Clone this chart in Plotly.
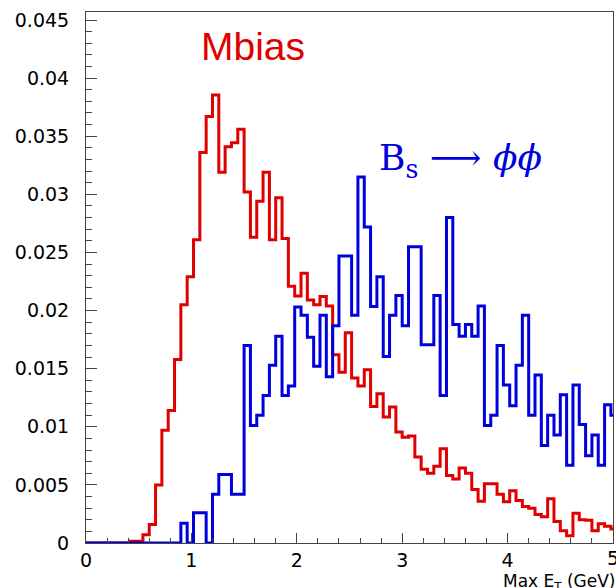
import numpy as np
import plotly.graph_objects as go

# Histogram definition: 0.06 GeV bins starting at 0
bin_width = 0.06
n_bins = 84

# Mbias (red), per bin, in units of 1e-3
mbias = [0, 0, 0, 0, 0, 0, 0, 0.15, 0.15, 0.7,
         1.6, 5.0, 9.7, 11.4, 15.8, 20.5, 22.9, 26.1, 33.6, 36.7,
         38.55, 31.9, 34.1, 34.45, 35.6, 30.2, 26.3, 29.4, 31.9, 26.1,
         29.7, 26.2, 22.1, 21.25, 23.2, 20.9, 20.5, 21.2, 20.4, 16.2,
         14.7, 18.1, 14.2, 13.5, 14.9, 11.75, 12.85, 10.85, 11.7, 9.55,
         9.1, 9.2, 7.4, 6.35, 6.0, 6.6, 8.1, 5.8, 5.5, 6.45,
         6.0, 4.6, 3.6, 5.1, 5.1, 4.2, 3.55, 4.5, 3.65, 3.15,
         3.0, 2.45, 2.25, 3.8, 1.85, 1.05, 0.62, 2.55, 2.0, 1.95,
         1.05, 1.65, 1.45, 1.2]

# Bs -> phi phi (blue), per bin, in units of 1e-3
bsphiphi = [0, 0, 0, 0, 0, 0, 0, 0, 0, 0,
            0, 0, 0, 0, 0, 1.7, 0, 2.6, 2.6, 0,
            4.2, 5.9, 5.9, 4.2, 4.2, 17.0, 10.1, 11.0, 12.7, 15.3,
            17.8, 12.7, 13.5, 20.3, 19.6, 17.7, 15.2, 19.6, 14.3, 18.7,
            24.7, 24.7, 19.6, 31.5, 27.2, 20.35, 22.9, 16.05, 19.6, 21.3,
            18.7, 25.5, 25.5, 17.05, 17.05, 21.3, 12.7, 28.0, 18.8, 17.8,
            18.8, 17.8, 20.4, 10.1, 11.0, 17.0, 13.6, 11.8, 15.3, 19.6,
            11.0, 14.45, 8.4, 11.0, 9.3, 12.75, 6.7, 13.6, 10.2, 7.5,
            9.3, 6.7, 11.9, 11.0]

x_ticks = [0, 1, 2, 3, 4, 5]
x_ticktext = ["0", "1", "2", "3", "4", "5"]
y_ticks = [0, 0.005, 0.01, 0.015, 0.02, 0.025, 0.03, 0.035, 0.04, 0.045]
y_ticktext = ["0", "0.005", "0.01", "0.015", "0.02", "0.025", "0.03", "0.035", "0.04", "0.045"]

edges = np.arange(n_bins + 1) * bin_width


def step_y(vals):
    v = np.array(vals) * 1e-3
    return np.append(v, v[-1])


RED = "#e00000"
BLUE = "#0000dd"

fig = go.Figure()
fig.add_trace(go.Scatter(x=edges, y=step_y(mbias), mode="lines",
                         line=dict(shape="hv", color=RED, width=3),
                         name="Mbias", showlegend=False))
fig.add_trace(go.Scatter(x=edges, y=step_y(bsphiphi), mode="lines",
                         line=dict(shape="hv", color=BLUE, width=3),
                         name="Bs", showlegend=False))

tickfont = dict(family="DejaVu Sans", size=19, color="black")

# last tick label (at the right edge) is drawn as an annotation so it can be clipped
fig.update_xaxes(range=[0, 5.0], tickvals=x_ticks[:-1], ticktext=x_ticktext[:-1],
                 ticks="inside", ticklen=10, tickcolor="#444", tickwidth=1,
                 minor=dict(dtick=0.2, tick0=0, ticks="inside", ticklen=5,
                            tickcolor="#444", tickwidth=1, showgrid=False),
                 showline=True, linecolor="#444", linewidth=1, mirror=True,
                 showgrid=False, zeroline=False, tickfont=tickfont,
                 ticklabelstandoff=0, automargin=False)
fig.update_yaxes(range=[0, 0.04569], tickvals=y_ticks, ticktext=y_ticktext,
                 ticks="inside", ticklen=11, tickcolor="#444", tickwidth=1,
                 minor=dict(dtick=0.001, tick0=0, ticks="inside", ticklen=6,
                            tickcolor="#444", tickwidth=1, showgrid=False),
                 showline=True, linecolor="#444", linewidth=1, mirror=True,
                 showgrid=False, zeroline=False, tickfont=tickfont,
                 ticklabelstandoff=12, automargin=False)

fig.add_annotation(x=x_ticks[-1], y=0, xref="x", yref="y", text=x_ticktext[-1],
                   showarrow=False, xanchor="center", yanchor="top", yshift=-2,
                   font=tickfont)
fig.add_annotation(x=1.584, y=0.0427, xref="x", yref="y", text="Mbias",
                   showarrow=False, xanchor="center", yanchor="middle",
                   font=dict(family="Liberation Sans", size=39, color=RED))
fig.add_annotation(x=3.555, y=0.0329, xref="x", yref="y",
                   text="B<sub>s</sub> \u27f6 <i>\u03d5\u03d5</i>",
                   showarrow=False, xanchor="center", yanchor="middle",
                   font=dict(family="DejaVu Serif", size=36, color=BLUE))
fig.add_annotation(x=1.0095, y=-0.074, xref="paper", yref="paper",
                   text="Max E<sub>T</sub> (GeV)",
                   showarrow=False, xanchor="right", yanchor="middle",
                   font=dict(family="DejaVu Sans", size=17, color="black"))

fig.update_layout(width=616, height=588,
                  margin=dict(l=86, r=3, t=12, b=45),
                  paper_bgcolor="white", plot_bgcolor="white")

fig.write_html("out.html", config={"displayModeBar": False},
               post_script="document.body.style.margin='0px';document.body.style.overflow='hidden';")
